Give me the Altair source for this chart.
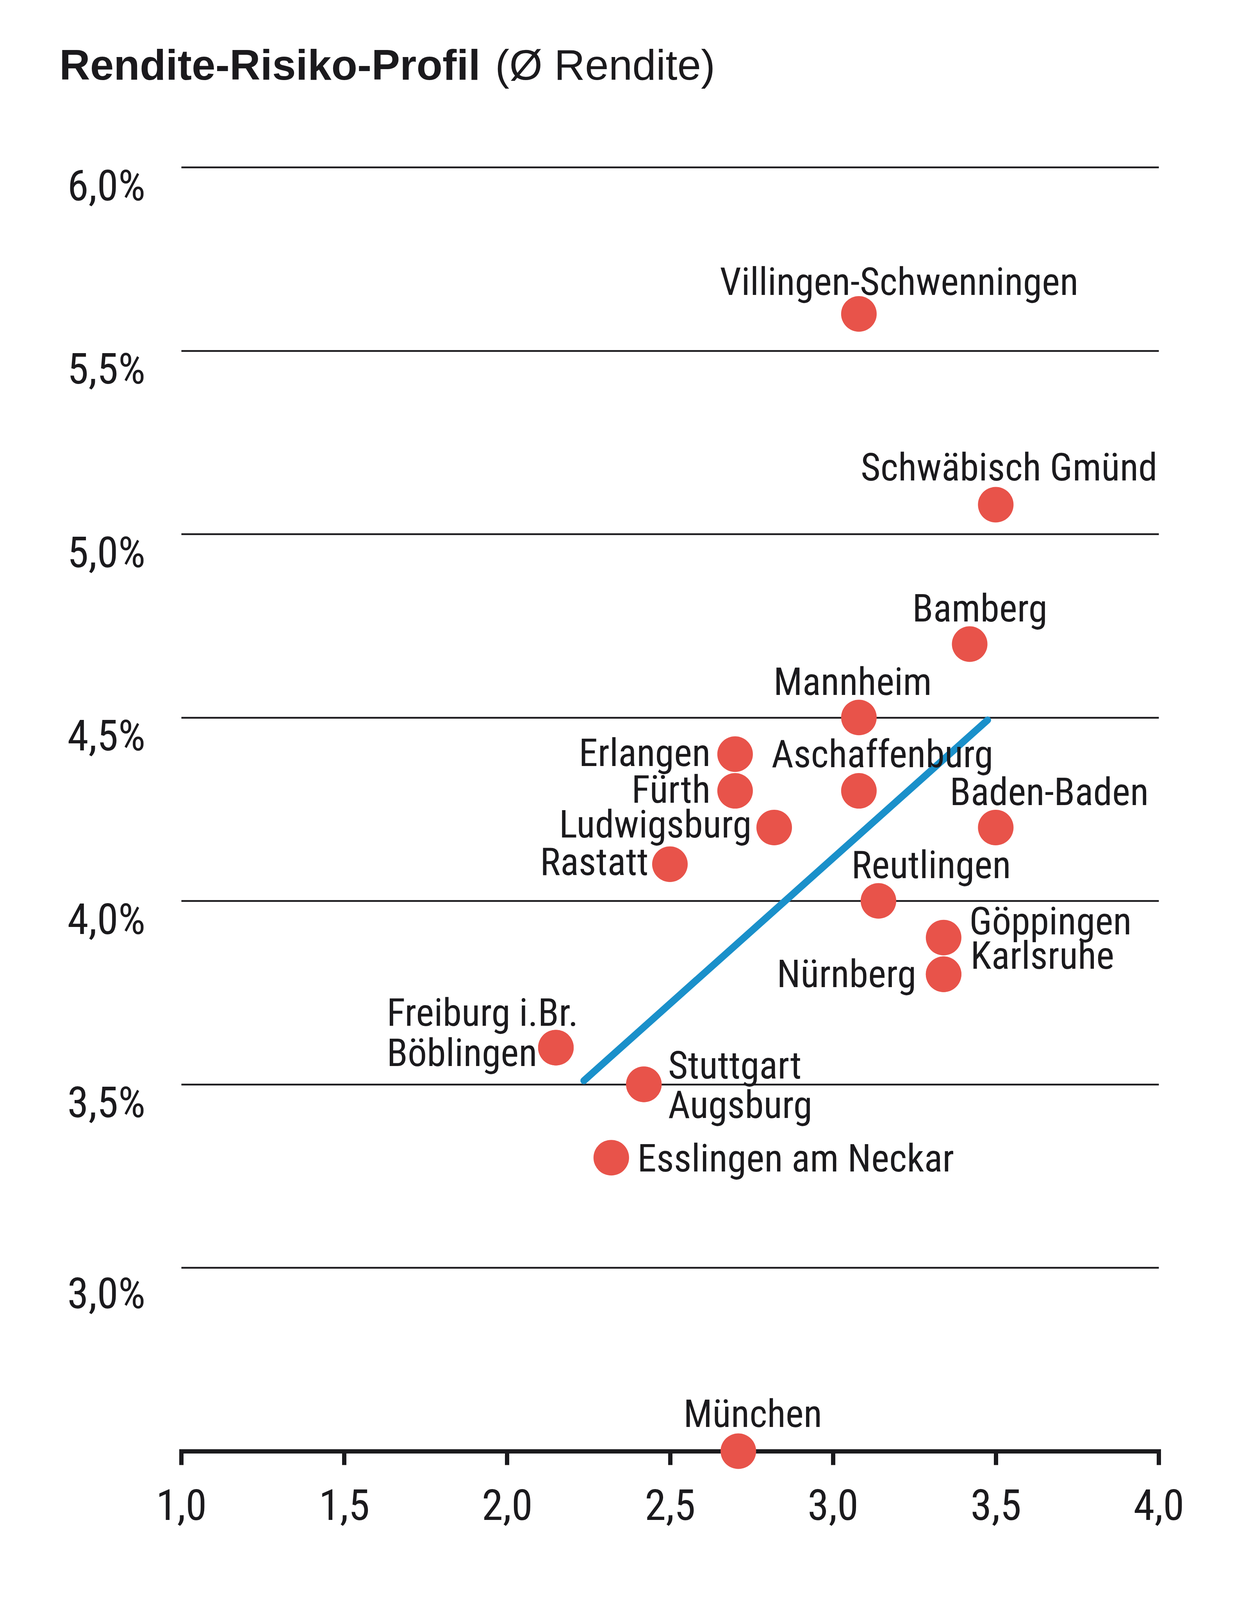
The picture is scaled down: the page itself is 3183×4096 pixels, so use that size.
import altair as alt
import pandas as pd

# ---------------- data ----------------
cities = [
    "Villingen-Schwenningen", "Schwäbisch Gmünd", "Bamberg", "Mannheim",
    "Erlangen", "Fürth", "Aschaffenburg", "Ludwigsburg", "Baden-Baden",
    "Rastatt", "Reutlingen", "Göppingen", "Karlsruhe", "Nürnberg",
    "Freiburg i.Br.", "Böblingen", "Stuttgart", "Augsburg",
    "Esslingen am Neckar", "München",
]
risk = [3.08, 3.50, 3.42, 3.08, 2.70, 2.70, 3.08, 2.82, 3.50, 2.50,
        3.14, 3.34, 3.34, 3.34, 2.15, 2.15, 2.42, 2.42, 2.32, 2.71]
rendite = [5.60, 5.08, 4.70, 4.50, 4.40, 4.30, 4.30, 4.20, 4.20, 4.10,
           4.00, 3.90, 3.80, 3.80, 3.60, 3.60, 3.50, 3.50, 3.30, 2.50]

trend_risk = [2.236, 3.475]
trend_rendite = [3.51, 4.493]

x_ticks = [1.0, 1.5, 2.0, 2.5, 3.0, 3.5, 4.0]
y_ticks = [3.0, 3.5, 4.0, 4.5, 5.0, 5.5, 6.0]

title_bold = "Rendite-Risiko-Profil"
title_regular = "(Ø Rendite)"

# ---------------- styling ----------------
INK = "#1b1a1d"
RED = "#e8534a"
BLUE = "#1a90ca"
COND = "Roboto Condensed, Liberation Sans, sans-serif"
SANS = "Liberation Sans, Arial, Helvetica, sans-serif"

# label placement: align, dx, dy (pixel offsets from the point centre, baseline)
label_place = {
    "Villingen-Schwenningen": ("center", 103, -49),
    "Schwäbisch Gmünd": ("center", 34, -62),
    "Bamberg": ("center", 26, -58),
    "Mannheim": ("center", -16, -58),
    "Erlangen": ("right", -63, 30),
    "Fürth": ("right", -63, 30),
    "Aschaffenburg": ("center", 60, -61),
    "Ludwigsburg": ("right", -58, 26),
    "Baden-Baden": ("center", 137, -57),
    "Rastatt": ("right", -55, 28),
    "Reutlingen": ("center", 135, -58),
    "Göppingen": ("left", 66, -8),
    "Karlsruhe": ("left", 69, -14),
    "Nürnberg": ("right", -70, 33),
    "Freiburg i.Br.": ("left", -433, -56),
    "Böblingen": ("left", -433, 47),
    "Stuttgart": ("left", 62, -15),
    "Augsburg": ("left", 62, 86),
    "Esslingen am Neckar": ("left", 67, 35),
    "München": ("center", 37, -62),
}

df = pd.DataFrame({"city": cities, "risk": risk, "rendite": rendite})
trend_df = pd.DataFrame({"risk": trend_risk, "rendite": trend_rendite})

x_scale = alt.Scale(domain=[1.0, 4.0], nice=False, zero=False)
y_scale = alt.Scale(domain=[2.5, 6.0], nice=False, zero=False)

x_axis = alt.Axis(
    values=x_ticks,
    labelExpr="replace(format(datum.value, '.1f'), '.', ',')",
    grid=False,
    domain=True, domainColor=INK, domainWidth=11, domainCap="square",
    ticks=True, tickColor=INK, tickWidth=11, tickSize=35,
    labelPadding=140, labelBaseline="alphabetic", labelFlush=False,
    labelOverlap=False, labelLimit=0,
    labelFont=COND, labelFontSize=110, labelFontWeight="normal", labelColor=INK,
    title=None,
)
y_axis = alt.Axis(
    values=y_ticks,
    labelExpr="replace(format(datum.value, '.1f'), '.', ',') + '%'",
    grid=True, gridColor=INK, gridWidth=4.5,
    domain=False, ticks=False, tickSize=0,
    labelAlign="left", labelPadding=292, labelBaseline="alphabetic",
    labelOffset={"condition": {"test": "datum.value == 3", "value": 103}, "value": 84},
    labelOverlap=False, labelFlush=False, labelLimit=0,
    labelFont=COND, labelFontSize=110, labelFontWeight="normal", labelColor=INK,
    title=None,
)

X = alt.X("risk:Q", scale=x_scale, axis=x_axis)
Y = alt.Y("rendite:Q", scale=y_scale, axis=y_axis)

trend = alt.Chart(trend_df).mark_line(
    color=BLUE, strokeWidth=18, strokeCap="round"
).encode(x=X, y=Y)

points = alt.Chart(df).mark_circle(
    size=8300, color=RED, opacity=1
).encode(x=X, y=Y)

label_layers = []
for c in cities:
    align, dx, dy = label_place[c]
    label_layers.append(
        alt.Chart(df).transform_filter(alt.datum.city == c).mark_text(
            align=align, baseline="alphabetic", dx=dx, dy=dy,
            font=COND, fontSize=98, fontWeight="normal", color=INK,
        ).encode(x=X, y=Y, text="city:N")
    )

title_df = pd.DataFrame({"bold": [title_bold], "regular": [title_regular]})
title_a = alt.Chart(title_df).mark_text(
    align="left", baseline="alphabetic", font=SANS, fontWeight="bold",
    fontSize=109, color=INK,
).encode(x=alt.value(-312), y=alt.value(-224), text="bold:N")
title_b = alt.Chart(title_df).mark_text(
    align="left", baseline="alphabetic", font=SANS, fontWeight="normal",
    fontSize=109, color=INK,
).encode(x=alt.value(804), y=alt.value(-224), text="regular:N")

chart = alt.layer(trend, points, *label_layers, title_a, title_b).properties(
    width=2503,
    height=3287,
    autosize=alt.AutoSizeParams(type="none"),
    padding={"left": 456, "top": 420, "right": 200, "bottom": 300},
    background="white",
).configure_view(strokeWidth=0)

chart.save("out.html", embed_options={"renderer": "svg", "actions": False})
